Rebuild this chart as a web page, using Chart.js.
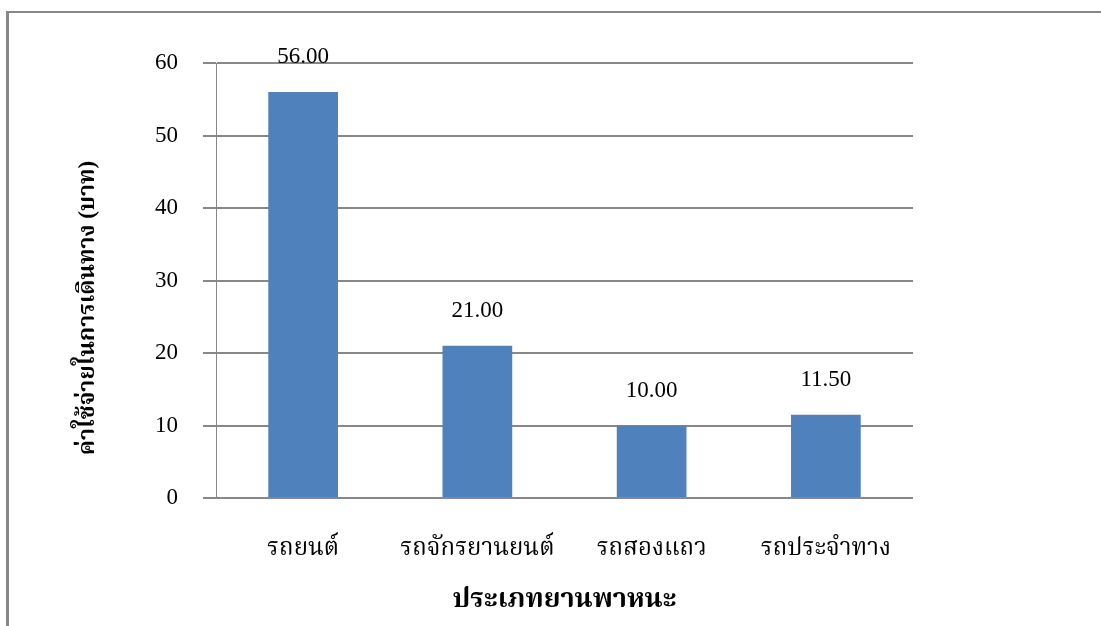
<!DOCTYPE html>
<html lang="th">
<head>
<meta charset="utf-8">
<title>ค่าใช้จ่ายในการเดินทาง</title>
<script src="https://cdn.jsdelivr.net/npm/chart.js@4.4.1/dist/chart.umd.min.js"></script>
<style>
    html, body {
        margin: 0;
        padding: 0;
        background: #ffffff;
        overflow: hidden;
    }
    #frame {
        position: absolute;
        left: 6px;
        top: 11px;
        width: 1200px;
        height: 700px;
        border-left: 3px solid #888888;
        border-top: 2px solid #888888;
    }
    #wrap {
        position: absolute;
        left: 0;
        top: 0;
        width: 1101px;
        height: 626px;
    }
</style>
</head>
<body>
<div id="frame"></div>
<div id="wrap"><canvas id="chart" width="1101" height="626"></canvas></div>
<script>
// Chart data
const vehicleTypes = ['รถยนต์', 'รถจักรยานยนต์', 'รถสองแถว', 'รถประจำทาง'];
const travelCosts = [56.00, 21.00, 10.00, 11.50];
const yTicks = [0, 10, 20, 30, 40, 50, 60];

const xTitle = 'ประเภทยานพาหนะ';
const yTitle = 'ค่าใช้จ่ายในการเดินทาง (บาท)';

const serifFont = '"Liberation Serif", "Times New Roman", "Noto Serif Thai", "Noto Sans Thai", serif';
const gridColor = '#888888';

// Draw the value above each bar
const valueLabels = {
    id: 'valueLabels',
    afterDatasetsDraw(chart) {
        const ctx = chart.ctx;
        const meta = chart.getDatasetMeta(0);
        ctx.save();
        ctx.font = '23px ' + serifFont;
        ctx.fillStyle = '#000000';
        ctx.textAlign = 'center';
        ctx.textBaseline = 'middle';
        meta.data.forEach((bar, i) => {
            ctx.fillText(travelCosts[i].toFixed(2), bar.x, bar.y - 35);
        });
        ctx.restore();
    }
};

// Vertical axis title, placed by hand (a bit below the plot centre)
const yAxisTitle = {
    id: 'yAxisTitle',
    afterDraw(chart) {
        const ctx = chart.ctx;
        ctx.save();
        ctx.translate(88, 308);
        ctx.rotate(-Math.PI / 2);
        ctx.font = 'bold 23px ' + serifFont;
        ctx.fillStyle = '#000000';
        ctx.textAlign = 'center';
        ctx.textBaseline = 'middle';
        ctx.fillText(yTitle, 0, 0);
        ctx.restore();
    }
};

const ctx = document.getElementById('chart').getContext('2d');
new Chart(ctx, {
    type: 'bar',
    data: {
        labels: vehicleTypes,
        datasets: [{
            data: travelCosts,
            backgroundColor: '#4F81BD',
            borderWidth: 0,
            barPercentage: 0.4,
            categoryPercentage: 1.0
        }]
    },
    options: {
        responsive: false,
        animation: false,
        events: [],
        layout: {
            padding: { left: 80, right: 188, top: 63, bottom: 0 }
        },
        plugins: {
            legend: { display: false },
            tooltip: { enabled: false }
        },
        scales: {
            x: {
                grid: { display: false },
                border: { display: false },
                ticks: {
                    color: '#000000',
                    padding: 28,
                    font: { family: serifFont, size: 24 }
                },
                title: {
                    display: true,
                    text: xTitle,
                    color: '#000000',
                    padding: { top: 0, bottom: 10 },
                    font: { family: serifFont, size: 27, weight: 'bold' }
                },
                afterFit(scale) {
                    scale.height = 128;
                }
            },
            y: {
                min: 0,
                max: 60,
                afterBuildTicks(scale) {
                    scale.ticks = yTicks.map(v => ({ value: v }));
                },
                grid: {
                    color: gridColor,
                    lineWidth: 2,
                    drawTicks: true,
                    tickLength: 13
                },
                border: { display: true, color: gridColor, width: 1 },
                ticks: {
                    color: '#000000',
                    padding: 25,
                    font: { family: serifFont, size: 23 }
                },
                title: { display: false },
                afterFit(scale) {
                    scale.width = 136;
                }
            }
        }
    },
    plugins: [valueLabels, yAxisTitle]
});
</script>
</body>
</html>
